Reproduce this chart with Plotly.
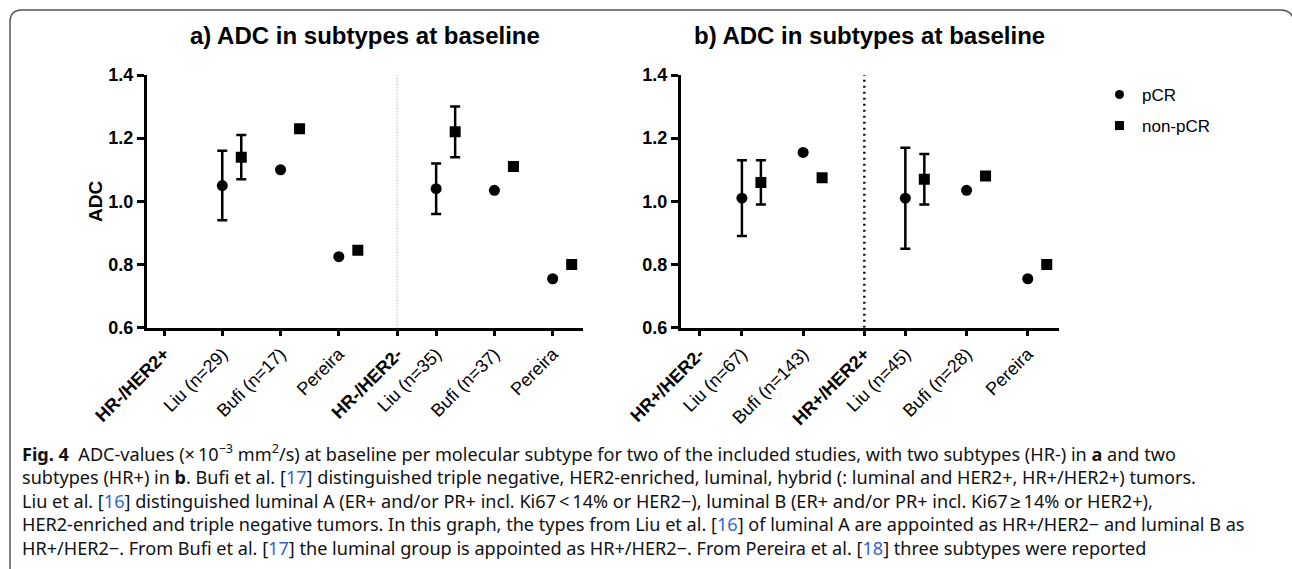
import plotly.graph_objects as go

# ---------------- data ----------------
cats_a = ["HR-/HER2+", "Liu (n=29)", "Bufi (n=17)", "Pereira",
          "HR-/HER2-", "Liu (n=35)", "Bufi (n=37)", "Pereira"]
pcr_a = [None, 1.05, 1.10, 0.825, None, 1.04, 1.035, 0.755]
pcr_a_lo = [None, 0.94, None, None, None, 0.96, None, None]
pcr_a_hi = [None, 1.16, None, None, None, 1.12, None, None]
non_a = [None, 1.14, 1.23, 0.845, None, 1.22, 1.11, 0.80]
non_a_lo = [None, 1.07, None, None, None, 1.14, None, None]
non_a_hi = [None, 1.21, None, None, None, 1.30, None, None]

cats_b = ["HR+/HER2-", "Liu (n=67)", "Bufi (n=143)",
          "HR+/HER2+", "Liu (n=45)", "Bufi (n=28)", "Pereira"]
pcr_b = [None, 1.01, 1.155, None, 1.01, 1.035, 0.755]
pcr_b_lo = [None, 0.89, None, None, 0.85, None, None]
pcr_b_hi = [None, 1.13, None, None, 1.17, None, None]
non_b = [None, 1.06, 1.075, None, 1.07, 1.08, 0.80]
non_b_lo = [None, 0.99, None, None, 0.99, None, None]
non_b_hi = [None, 1.13, None, None, 1.15, None, None]

y_ticks = [0.6, 0.8, 1.0, 1.2, 1.4]
titles = ["a) ADC in subtypes at baseline", "b) ADC in subtypes at baseline"]
series_names = ["pCR", "non-pCR"]

caption_lines = [
    "<b>Fig. 4</b>\u00a0\u00a0ADC-values (\u00d7\u200910<sup>\u22123</sup> mm<sup>2</sup>/s) at baseline per molecular subtype for two of the included studies, with two subtypes (HR-) in <b>a</b> and two",
    "subtypes (HR+) in <b>b</b>. Bufi et al. [<span style='color:#3366cc'>17</span>] distinguished triple negative, HER2-enriched, luminal, hybrid (: luminal and HER2+, HR+/HER2+) tumors.",
    "Liu et al. [<span style='color:#3366cc'>16</span>] distinguished luminal A (ER+ and/or PR+ incl. Ki67\u2009<\u200914% or HER2\u2212), luminal B (ER+ and/or PR+ incl. Ki67\u2009\u2265\u200914% or HER2+),",
    "HER2-enriched and triple negative tumors. In this graph, the types from Liu et al. [<span style='color:#3366cc'>16</span>] of luminal A are appointed as HR+/HER2\u2212 and luminal B as",
    "HR+/HER2\u2212. From Bufi et al. [<span style='color:#3366cc'>17</span>] the luminal group is appointed as HR+/HER2\u2212. From Pereira et al. [<span style='color:#3366cc'>18</span>] three subtypes were reported",
]

# ---------------- layout constants ----------------
W, H = 1292, 569
FONT = "Arial, 'Liberation Sans', sans-serif"
CAP_FONT = "'Noto Sans', sans-serif"
HEADER_STEP = {"a": [1, 1, 1, 1, 0.67, 1, 1], "b": [0.7, 1, 1, 0.67, 1, 1]}


def px(x):
    return x / W


def py(y):
    return 1 - y / H


def positions(steps):
    pos = [0.0]
    for s in steps:
        pos.append(pos[-1] + s)
    return pos


panels = [
    dict(cats=cats_a, pcr=pcr_a, plo=pcr_a_lo, phi=pcr_a_hi,
         non=non_a, nlo=non_a_lo, nhi=non_a_hi, steps=HEADER_STEP["a"],
         dom=(146.7, 583), rng=(-0.297, 7.19), off=0.326, divider=4,
         dcol="#999999", dw=1, ddash="1px,2px"),
    dict(cats=cats_b, pcr=pcr_b, plo=pcr_b_lo, phi=pcr_b_hi,
         non=non_b, nlo=non_b_lo, nhi=non_b_hi, steps=HEADER_STEP["b"],
         dom=(680.7, 1059), rng=(-0.30, 5.88), off=0.31, divider=3,
         dcol="#111111", dw=2.5, ddash="2px,4px"),
]

fig = go.Figure()
shapes = []
annotations = []


def errs(vals, lo, hi):
    plus, minus = [], []
    for v, l, h in zip(vals, lo, hi):
        if v is None or l is None:
            plus.append(None)
            minus.append(None)
        else:
            plus.append(h - v)
            minus.append(v - l)
    return plus, minus


for k, p in enumerate(panels):
    xa = "x" if k == 0 else "x2"
    ya = "y" if k == 0 else "y2"
    pos = positions(p["steps"])
    for s, (vals, lo, hi, sym, dx) in enumerate([
        (p["pcr"], p["plo"], p["phi"], "circle", 0.0),
        (p["non"], p["nlo"], p["nhi"], "square", p["off"]),
    ]):
        xs = [q + dx for q, v in zip(pos, vals) if v is not None]
        ys = [v for v in vals if v is not None]
        pl, mi = errs(vals, lo, hi)
        pl = [e for e, v in zip(pl, vals) if v is not None]
        mi = [e for e, v in zip(mi, vals) if v is not None]
        fig.add_trace(go.Scatter(
            x=xs, y=ys, mode="markers", xaxis=xa, yaxis=ya,
            name=series_names[s], showlegend=False,
            marker=dict(symbol=sym, size=11, color="black"),
            error_y=dict(type="data", array=pl, arrayminus=mi, symmetric=False,
                         color="black", thickness=2.5, width=5),
        ))
    # divider line at second subtype header
    dpos = pos[p["divider"]]
    shapes.append(dict(type="line", xref=xa, yref=ya, x0=dpos, x1=dpos,
                       y0=y_ticks[0], y1=y_ticks[-1], layer="below",
                       line=dict(color=p["dcol"], width=p["dw"], dash=p["ddash"])))
    ticktext = [("<b>%s</b>" % c) if c.startswith("HR") else c for c in p["cats"]]
    xaxis = dict(domain=[px(p["dom"][0]), px(p["dom"][1])], range=list(p["rng"]),
                 anchor=ya, tickmode="array", tickvals=pos, ticktext=ticktext,
                 tickangle=-45, ticks="outside", ticklen=6, tickwidth=2.5,
                 tickcolor="black", showline=True, linewidth=2.5, linecolor="black",
                 showgrid=False, zeroline=False, automargin=False,
                 tickfont=dict(family=FONT, size=18, color="black"))
    yaxis = dict(domain=[py(327.7), py(75)], range=[y_ticks[0], y_ticks[-1]],
                 anchor=xa, tickmode="array", tickvals=y_ticks,
                 ticktext=["%.1f" % t for t in y_ticks],
                 ticks="outside", ticklen=7, tickwidth=2.5, tickcolor="black",
                 showline=True, linewidth=2.5, linecolor="black",
                 showgrid=False, zeroline=False, automargin=False,
                 tickfont=dict(family=FONT, size=18, color="black", weight="bold"))
    if k == 0:
        fig.update_layout(xaxis=xaxis, yaxis=yaxis)
    else:
        fig.update_layout(xaxis2=xaxis, yaxis2=yaxis)
    # panel title
    annotations.append(dict(text="<b>%s</b>" % titles[k], xref="paper", yref="paper",
                            x=px((p["dom"][0] + p["dom"][1]) / 2), y=py(35),
                            xanchor="center", yanchor="middle", showarrow=False,
                            font=dict(family=FONT, size=24, color="black")))

# legend-only traces (one legend per item to match spacing)
for j, (name, sym) in enumerate(zip(series_names, ["circle", "square"])):
    fig.add_trace(go.Scatter(x=[None], y=[None], mode="markers", name=name,
                             marker=dict(symbol=sym, size=9, color="black"),
                             showlegend=True, legend="legend" if j == 0 else "legend2"))

# y-axis title
annotations.append(dict(text="<b>ADC</b>", xref="paper", yref="paper",
                        x=px(95), y=py(202), xanchor="center", yanchor="middle",
                        textangle=-90, showarrow=False,
                        font=dict(family=FONT, size=19, color="black")))

# caption
annotations.append(dict(text="<br>".join(caption_lines), xref="paper", yref="paper",
                        x=px(20), y=py(499.5), xanchor="left", yanchor="middle",
                        showarrow=False, align="left",
                        font=dict(family=CAP_FONT, size=18.1, color="#111111")))

# rounded frame
frame = ("M %f,%f L %f,%f Q %f,%f %f,%f L %f,%f Q %f,%f %f,%f" % (
    px(10), py(580), px(10), py(22), px(10), py(10), px(22), py(10),
    px(1280), py(10), px(1291), py(10), px(1293), py(18)))
shapes.append(dict(type="path", xref="paper", yref="paper", path=frame,
                   line=dict(color="#555555", width=1.5)))

leg_common = dict(xanchor="left", yanchor="top", itemwidth=35,
                  font=dict(family=FONT, size=17, color="black"),
                  bgcolor="rgba(0,0,0,0)")
fig.update_layout(
    width=W, height=H, margin=dict(l=0, r=0, t=0, b=0, autoexpand=False),
    paper_bgcolor="white", plot_bgcolor="white",
    shapes=shapes, annotations=annotations,
    legend=dict(x=px(1097), y=py(77), **leg_common),
    legend2=dict(x=px(1097), y=py(108), **leg_common),
)

fig.write_html("out.html")
